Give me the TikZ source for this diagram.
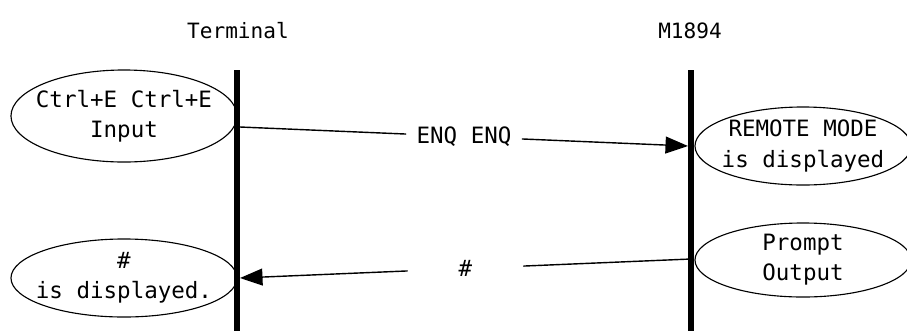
\documentclass[tikz,border=0pt]{standalone}
\usepackage{fontspec}
\setmainfont{DejaVu Sans Mono}
\usepackage{tikz}
\usetikzlibrary{shapes.geometric, arrows.meta, positioning, calc}
\tikzset{
  note/.style={ellipse, draw, line width=0.8pt, inner xsep=-15pt, inner ysep=0pt,
    align=center, font=\fontsize{16}{21.5}\selectfont},
  msglabel/.style={rectangle, inner sep=0pt, minimum width=2.875cm,
    minimum height=0.5cm, font=\fontsize{16}{21.5}\selectfont},
  header/.style={font=\fontsize{15}{18}\selectfont},
  lifeline/.style={line width=4.3pt},
  msg/.style={line width=1pt},
  msgarrow/.style={-{Triangle[length=16pt, width=12pt]}, line width=1pt}
}

\begin{document}
\begin{tikzpicture}[x=0.025cm, y=-0.025cm]
  \useasboundingbox (0,0) rectangle (907,331);

  % Headers
  \node[header] (term) at (238,31) {Terminal};
  \node[header] (dev) at (690,31) {M1894};

  % Lifelines
  \coordinate (termtop) at (237,70);
  \coordinate (termbot) at (237,331);
  \coordinate (devtop) at (691,70);
  \coordinate (devbot) at (691,331);
  \draw[lifeline] (termtop) -- (termbot);
  \draw[lifeline] (devtop) -- (devbot);

  % Notes on the Terminal side
  \node[note, minimum width=5.65cm, minimum height=2.3cm] (ctrl) at (124,116) {Ctrl+E Ctrl+E\\Input};
  \node[note, minimum width=5.65cm, minimum height=1.95cm] (shown) at (124,278) {\#\\is displayed.};

  % Notes on the M1894 side
  \node[note, minimum width=5.4cm, minimum height=1.95cm] (remote) at (803,146) {REMOTE MODE\\is displayed};
  \node[note, minimum width=5.4cm, minimum height=1.85cm] (prompt) at (803,260) {Prompt\\Output};

  % ENQ message
  \coordinate (enqfrom) at (240,127);
  \coordinate (enqto) at (688,146);
  \node[msglabel] (enq) at ($(enqfrom)!0.5!(enqto)$) {ENQ ENQ};
  \draw[msg] (enqfrom) -- (enq);
  \draw[msgarrow] (enq) -- (enqto);

  % Prompt message
  \coordinate (hashfrom) at (691,259);
  \coordinate (hashto) at (240,278);
  \node[msglabel] (hash) at ($(hashfrom)!0.5!(hashto)$) {\#};
  \draw[msg] (hashfrom) -- (hash);
  \draw[msgarrow] (hash) -- (hashto);
\end{tikzpicture}
\end{document}
